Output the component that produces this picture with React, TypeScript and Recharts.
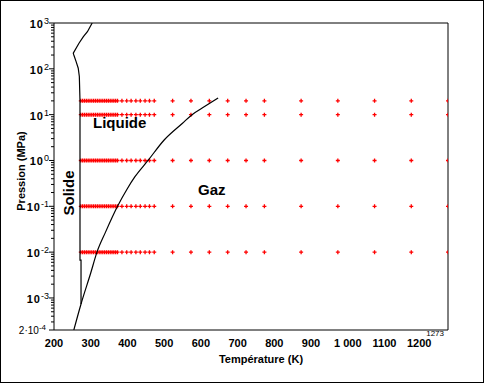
import { ComposedChart, Scatter, XAxis, YAxis, ReferenceLine, Customized } from "recharts";

// measured temperatures (K) and pressures (MPa)
const temperatures = [
  273, 278, 283, 288, 293, 298, 303, 308, 313, 318, 323, 328, 333, 338, 343, 348, 353, 358, 363, 368, 373,
  385, 398, 410, 423, 435, 448, 460, 473,
  523, 573, 623, 673, 723, 773, 873, 973, 1073, 1173, 1273,
];
const pressures = [20, 10, 1, 0.1, 0.01];

// solid / liquid boundary
const meltT = [273.6, 273.6, 270.8, 270.8, 269, 266, 260, 254, 252.5, 268, 280, 291, 304];
const meltP = [0.00074, 0.0067, 0.0067, 20, 68, 103, 145, 200, 220, 362, 503, 647, 1000];

// sublimation + vaporisation curve up to the critical point
const vapT = [254, 273.6, 300, 317, 340, 373, 400, 420, 456, 500, 550, 576, 610, 647];
const vapP = [0.0002, 0.00074, 0.0035, 0.01, 0.027, 0.1, 0.245, 0.437, 1.0, 2.8, 6.5, 10, 15, 23];

const xTicks = [200, 300, 400, 500, 600, 700, 800, 900, 1000, 1100, 1200, 1273];
const yMajor = [0.0002, 0.001, 0.01, 0.1, 1, 10, 100, 1000];

const yMinor: number[] = [];
for (let e = -4; e < 3; e++) {
  for (let m = 2; m < 10; m++) {
    const v = m * Math.pow(10, e);
    if (v > 0.0002) yMinor.push(v);
  }
}
const yTicks = [...yMajor, ...yMinor].sort((a, b) => a - b);

const points = pressures.flatMap((p) => temperatures.map((t) => ({ t, p })));
const melt = meltT.map((t, i) => ({ t, p: meltP[i] }));
const vap = vapT.map((t, i) => ({ t, p: vapP[i] }));

const font = "'Liberation Sans', Arial, sans-serif";

const Plus = (props: any) => {
  const { cx, cy } = props;
  if (cx == null || cy == null) return <g />;
  return (
    <path d={`M${cx - 2},${cy}h4M${cx},${cy - 2}v4`} stroke="#ff0000" strokeWidth={1.3} fill="none" />
  );
};

const NoDot = () => <g />;

const YTick = (props: any) => {
  const { x, y, payload } = props;
  const v = payload.value as number;
  const isMajor = yMajor.some((m) => Math.abs(m - v) / m < 1e-6);
  if (!isMajor) {
    return <line x1={x - 3} x2={x} y1={y} y2={y} stroke="#000" />;
  }
  const exp = Math.round(Math.log10(v));
  if (v < 0.0009) {
    return (
      <g>
        <line x1={x - 5} x2={x} y1={y} y2={y} stroke="#000" />
        <text x={x - 8} y={y + 4} textAnchor="end" fontFamily={font} fontSize={10}>
          <tspan>2·10</tspan>
          <tspan dy={-4} fontSize={8}>-4</tspan>
        </text>
      </g>
    );
  }
  return (
    <g>
      <line x1={x - 5} x2={x} y1={y} y2={y} stroke="#000" />
      <text x={x - 5} y={y + 5} textAnchor="end" fontFamily={font} fontSize={11} fontWeight="bold">
        <tspan letterSpacing={1}>10</tspan>
        <tspan dy={-4} fontSize={9} fontWeight="normal">{exp}</tspan>
      </text>
    </g>
  );
};

const XTick = (props: any) => {
  const { x, y, payload } = props;
  const v = payload.value as number;
  if (v === 1273) {
    return (
      <text x={x - 4} y={y + 6} textAnchor="end" fontFamily={font} fontSize={8}>
        1273
      </text>
    );
  }
  const label = v === 1000 ? "1 000" : String(v);
  return (
    <text x={v === 1200 ? x - 2 : x} y={y + 17} textAnchor="middle" fontFamily={font} fontSize={11} fontWeight="bold">
      {label}
    </text>
  );
};

const Annotations = () => (
  <g fontFamily={font} fill="#000">
    <rect x={0.5} y={0.5} width={483} height={382} fill="none" stroke="#000" />
    <text x={21} y={171} dy={4} textAnchor="middle" fontSize={11} fontWeight="bold" transform="rotate(-90 21 171)">
      Pression (MPa)
    </text>
    <text x={261} y={363} textAnchor="middle" fontSize={11} fontWeight="bold">
      Température (K)
    </text>
    <text x={93} y={128} fontSize={15} fontWeight="bold">Liquide</text>
    <text x={198} y={195} fontSize={15} fontWeight="bold">Gaz</text>
    <text x={69} y={193} dy={5} textAnchor="middle" fontSize={15} fontWeight="bold" transform="rotate(-90 69 193)">
      Solide
    </text>
  </g>
);

export default function App() {
  return (
    <div style={{ position: "absolute", left: 0, top: 0, width: 484, height: 383, background: "#fff" }}>
      <ComposedChart width={484} height={383} margin={{ top: 23, right: 36, bottom: 23, left: 0 }}>
        <XAxis
          type="number"
          dataKey="t"
          domain={[200, 1273]}
          ticks={xTicks}
          interval={0}
          tick={<XTick />}
          tickSize={0}
          tickMargin={0}
          tickLine={false}
          height={30}
          axisLine={{ stroke: "#000" }}
          allowDataOverflow
        />
        <YAxis
          type="number"
          dataKey="p"
          scale="log"
          domain={[0.0002, 1000]}
          ticks={yTicks}
          interval={0}
          tick={<YTick />}
          tickSize={0}
          tickMargin={0}
          tickLine={false}
          width={54}
          axisLine={{ stroke: "#000" }}
          allowDataOverflow
        />
        <ReferenceLine y={1000} stroke="#000" />
        <ReferenceLine x={1273} stroke="#000" />
        <Scatter data={points} shape={<Plus />} isAnimationActive={false} />
        <Scatter
          data={melt}
          line={{ stroke: "#000", strokeWidth: 1.2 }}
          lineJointType="linear"
          shape={<NoDot />}
          isAnimationActive={false}
        />
        <Scatter
          data={vap}
          line={{ stroke: "#000", strokeWidth: 1.2 }}
          lineJointType="monotoneX"
          shape={<NoDot />}
          isAnimationActive={false}
        />
        <Customized component={Annotations} />
      </ComposedChart>
    </div>
  );
}
